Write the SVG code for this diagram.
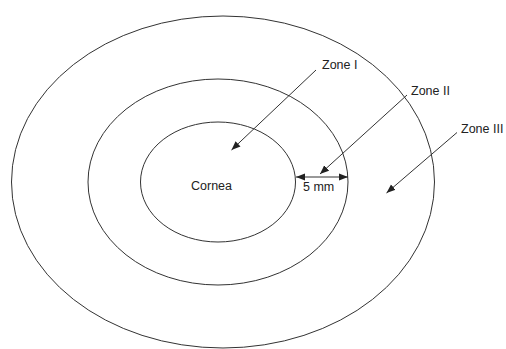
<svg xmlns="http://www.w3.org/2000/svg" width="506" height="349" viewBox="0 0 506 349">
<defs>
<marker id="ah" viewBox="0 0 10 10" refX="10" refY="5" markerWidth="9" markerHeight="9" markerUnits="userSpaceOnUse" orient="auto-start-reverse">
<path d="M0,1 L10,5 L0,9 z" fill="#222"/>
</marker>
</defs>
<style>
.ring{fill:none;stroke:#333;stroke-width:1}
.lbl{font-family:"Liberation Sans",Arial,sans-serif;font-size:12.5px;fill:#222}
.conn{stroke:#333;stroke-width:1;fill:none}
</style>
<rect width="506" height="349" fill="#fff"/>
<g id="zone3">
<ellipse class="ring" cx="223" cy="182" rx="211.5" ry="166"/>
</g>
<g id="zone2">
<ellipse class="ring" cx="218" cy="182" rx="130" ry="103"/>
</g>
<g id="cornea">
<ellipse class="ring" cx="218" cy="182" rx="77.5" ry="60"/>
<text class="lbl" x="191" y="190">Cornea</text>
</g>
<g id="label-zone1"><text class="lbl" x="322" y="69">Zone I</text></g>
<g id="label-zone2"><text class="lbl" x="411" y="95">Zone II</text></g>
<g id="label-zone3"><text class="lbl" x="461" y="133">Zone III</text></g>
<g id="label-5mm"><text class="lbl" x="303" y="191">5 mm</text></g>
<g id="connectors">
<line class="conn" x1="316" y1="70" x2="231.5" y2="150" marker-end="url(#ah)"/>
<line class="conn" x1="407" y1="95" x2="320" y2="174" marker-end="url(#ah)"/>
<line class="conn" x1="457" y1="132.5" x2="386.5" y2="193" marker-end="url(#ah)"/>
<line class="conn" x1="296" y1="177" x2="348" y2="177" marker-start="url(#ah)" marker-end="url(#ah)"/>
</g>
</svg>
